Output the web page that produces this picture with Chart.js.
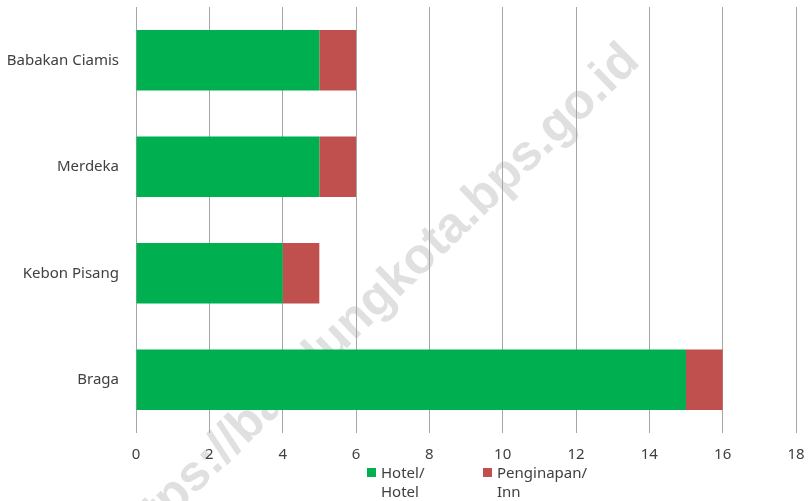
<!DOCTYPE html>
<html>
<head>
<meta charset="utf-8">
<script src="https://cdn.jsdelivr.net/npm/chart.js@4.4.0/dist/chart.umd.min.js"></script>
<style>
    html, body { margin: 0; padding: 0; background: #fff; }
    #wrap { position: relative; width: 810px; height: 501px; overflow: hidden; }
    #watermark {
        position: absolute; left: 372px; top: 300px;
        transform: translate(-50%, -50%) rotate(-44deg);
        font: bold 50px "Liberation Sans", Arial, sans-serif;
        color: #e0e0e0; white-space: nowrap; z-index: 0;
    }
    #chart { position: absolute; left: 0; top: 0; z-index: 1; }
    #legend { position: absolute; top: 463px; left: 0; width: 810px; z-index: 2;
        font: 15px "Noto Sans", sans-serif; color: #404040; }
    .item { position: absolute; line-height: 19px; }
    .box { position: absolute; width: 9px; height: 9px; left: 0; top: 5px; }
    .txt { position: absolute; left: 14px; top: 0; white-space: pre; }
</style>
</head>
<body>
<div id="wrap">
    <div id="watermark">https://bandungkota.bps.go.id</div>
    <canvas id="chart" width="810" height="501"></canvas>
    <div id="legend"></div>
</div>
<script>
// Data
const categories = ['Babakan Ciamis', 'Merdeka', 'Kebon Pisang', 'Braga'];
const hotelValues = [5, 5, 4, 15];
const innValues = [1, 1, 1, 1];
const seriesLabels = ['Hotel/\nHotel', 'Penginapan/\nInn'];
const seriesColors = ['#00b050', '#c0504d'];
const xTicks = [0, 2, 4, 6, 8, 10, 12, 14, 16, 18];

const fontFamily = '"Noto Sans", sans-serif';
const textColor = '#404040';
const gridColor = '#a6a6a6';

const chart = new Chart(document.getElementById('chart'), {
    type: 'bar',
    data: {
        labels: categories,
        datasets: [
            { label: seriesLabels[0], data: hotelValues, backgroundColor: seriesColors[0] },
            { label: seriesLabels[1], data: innValues, backgroundColor: seriesColors[1] }
        ]
    },
    options: {
        indexAxis: 'y',
        responsive: false,
        animation: false,
        layout: { padding: { top: 7, right: 14, left: 0, bottom: 0 } },
        datasets: { bar: { categoryPercentage: 1, barPercentage: 0.57 } },
        plugins: { legend: { display: false }, tooltip: { enabled: false } },
        scales: {
            x: {
                stacked: true,
                min: xTicks[0],
                max: xTicks[xTicks.length - 1],
                afterBuildTicks: s => { s.ticks = xTicks.map(v => ({ value: v })); },
                afterFit: s => { s.height = 68; s.paddingLeft = 0; s.paddingRight = 0; },
                border: { display: false },
                grid: { color: gridColor, drawTicks: false },
                ticks: { padding: 13, color: textColor, font: { family: fontFamily, size: 15 } }
            },
            y: {
                stacked: true,
                afterFit: s => { s.width = 136; s.paddingTop = 0; s.paddingBottom = 0; },
                border: { display: false },
                grid: { display: false },
                ticks: { padding: 9, color: textColor, font: { family: fontFamily, size: 15 } }
            }
        }
    }
});

// HTML legend built from the datasets
const legendPos = [367, 483];
const legend = document.getElementById('legend');
chart.data.datasets.forEach((ds, i) => {
    const item = document.createElement('div');
    item.className = 'item';
    item.style.left = legendPos[i] + 'px';
    item.innerHTML = '<span class="box" style="background:' + ds.backgroundColor + '"></span>';
    const txt = document.createElement('span');
    txt.className = 'txt';
    txt.textContent = ds.label;
    item.appendChild(txt);
    legend.appendChild(item);
});
</script>
</body>
</html>
